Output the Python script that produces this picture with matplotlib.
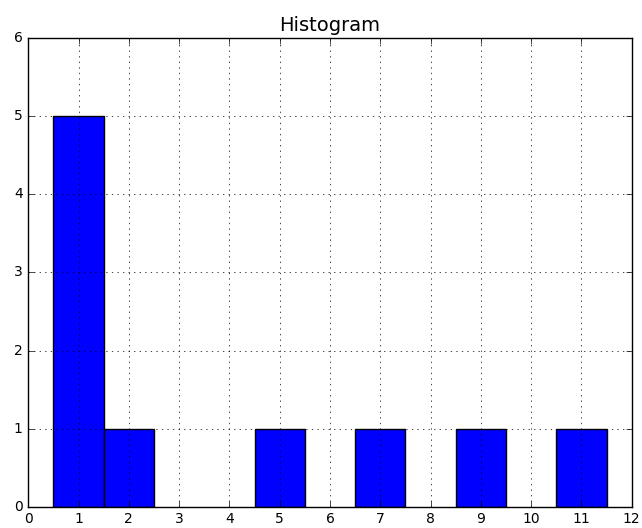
import matplotlib
matplotlib.use('Agg')
import matplotlib.pyplot as plt

# Datos del histograma (centro de cada barra y su altura)
bin_centers = [1, 2, 5, 7, 9, 11]
counts = [5, 1, 1, 1, 1, 1]

plt.style.use('classic')
fig = plt.figure(figsize=(6.42, 5.28), dpi=100)
ax = fig.add_axes([0.044, 0.040, 0.940, 0.888])

ax.bar(bin_centers, counts, width=1.0, color='blue', edgecolor='black', align='center')
ax.set_xlim(0, 12)
ax.set_ylim(0, 6)
ax.set_xticks(range(0, 13))
ax.set_yticks(range(0, 7))
ax.grid(True)
ax.set_axisbelow(False)
ax.set_title("Histogram", fontsize=14)
ax.tick_params(labelsize=10)

fig.savefig('out.png', dpi=100)
